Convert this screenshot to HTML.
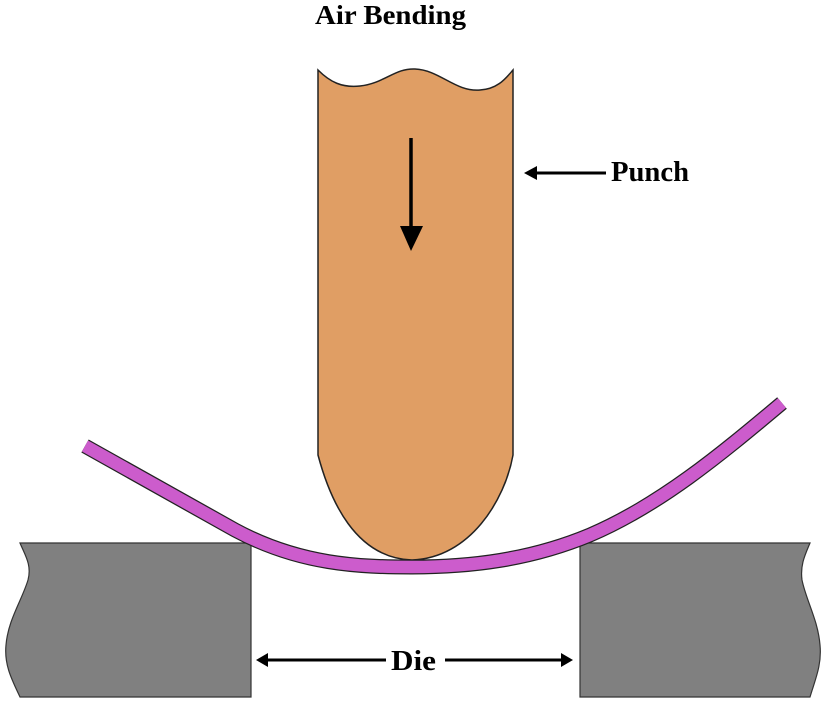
<!DOCTYPE html>
<html><head><style>body{margin:0;background:#fff}svg{display:block}</style></head><body>
<svg width="831" height="704" viewBox="0 0 831 704" xmlns="http://www.w3.org/2000/svg">
<text x="315" y="24" textLength="151" lengthAdjust="spacingAndGlyphs" font-family="Liberation Serif, serif" font-weight="bold" font-size="27">Air Bending</text>
<path d="M318,70 C330,82 342,88 360,86 C385,83 395,68 415,69 C440,70 455,92 480,90 C498,89 506,78 513,70 L513,455 C505,500 470,558 412,560 C355,558 330,500 318,455 Z" fill="#e09e64" stroke="#222" stroke-width="1.5"/>
<line x1="411" y1="138" x2="411" y2="230" stroke="#000" stroke-width="3.5"/>
<polygon points="400,226 423,226 411,251" fill="#000"/>
<line x1="534" y1="173" x2="606" y2="173" stroke="#000" stroke-width="3"/>
<polygon points="524,173 537,166 537,180" fill="#000"/>
<text x="611" y="181" textLength="78" lengthAdjust="spacingAndGlyphs" font-family="Liberation Serif, serif" font-weight="bold" font-size="28">Punch</text>
<path d="M20,543 L251,543 L251,697 L20,697 C12,680 4,665 6,645 C8,620 22,600 28,580 C32,565 25,555 20,543 Z" fill="#808080" stroke="#333" stroke-width="1.2"/>
<path d="M580,543 L810,543 C805,555 800,565 802,580 C806,600 818,620 820,645 C822,665 815,680 810,697 L580,697 Z" fill="#808080" stroke="#333" stroke-width="1.2"/>
<path d="M85,446 L235,530 C300,565 360,567 412,567 C470,567 530,560 590,535 C660,505 720,455 782,403" fill="none" stroke="#222" stroke-width="15"/>
<path d="M85,446 L235,530 C300,565 360,567 412,567 C470,567 530,560 590,535 C660,505 720,455 782,403" fill="none" stroke="#cc5ccc" stroke-width="12.5"/>
<line x1="265" y1="660" x2="386" y2="660" stroke="#000" stroke-width="3"/>
<polygon points="256,660 268,653 268,667" fill="#000"/>
<line x1="445" y1="660" x2="562" y2="660" stroke="#000" stroke-width="3"/>
<polygon points="573,660 561,653 561,667" fill="#000"/>
<text x="391" y="670" textLength="45" lengthAdjust="spacingAndGlyphs" font-family="Liberation Serif, serif" font-weight="bold" font-size="28">Die</text>
</svg>
</body></html>
